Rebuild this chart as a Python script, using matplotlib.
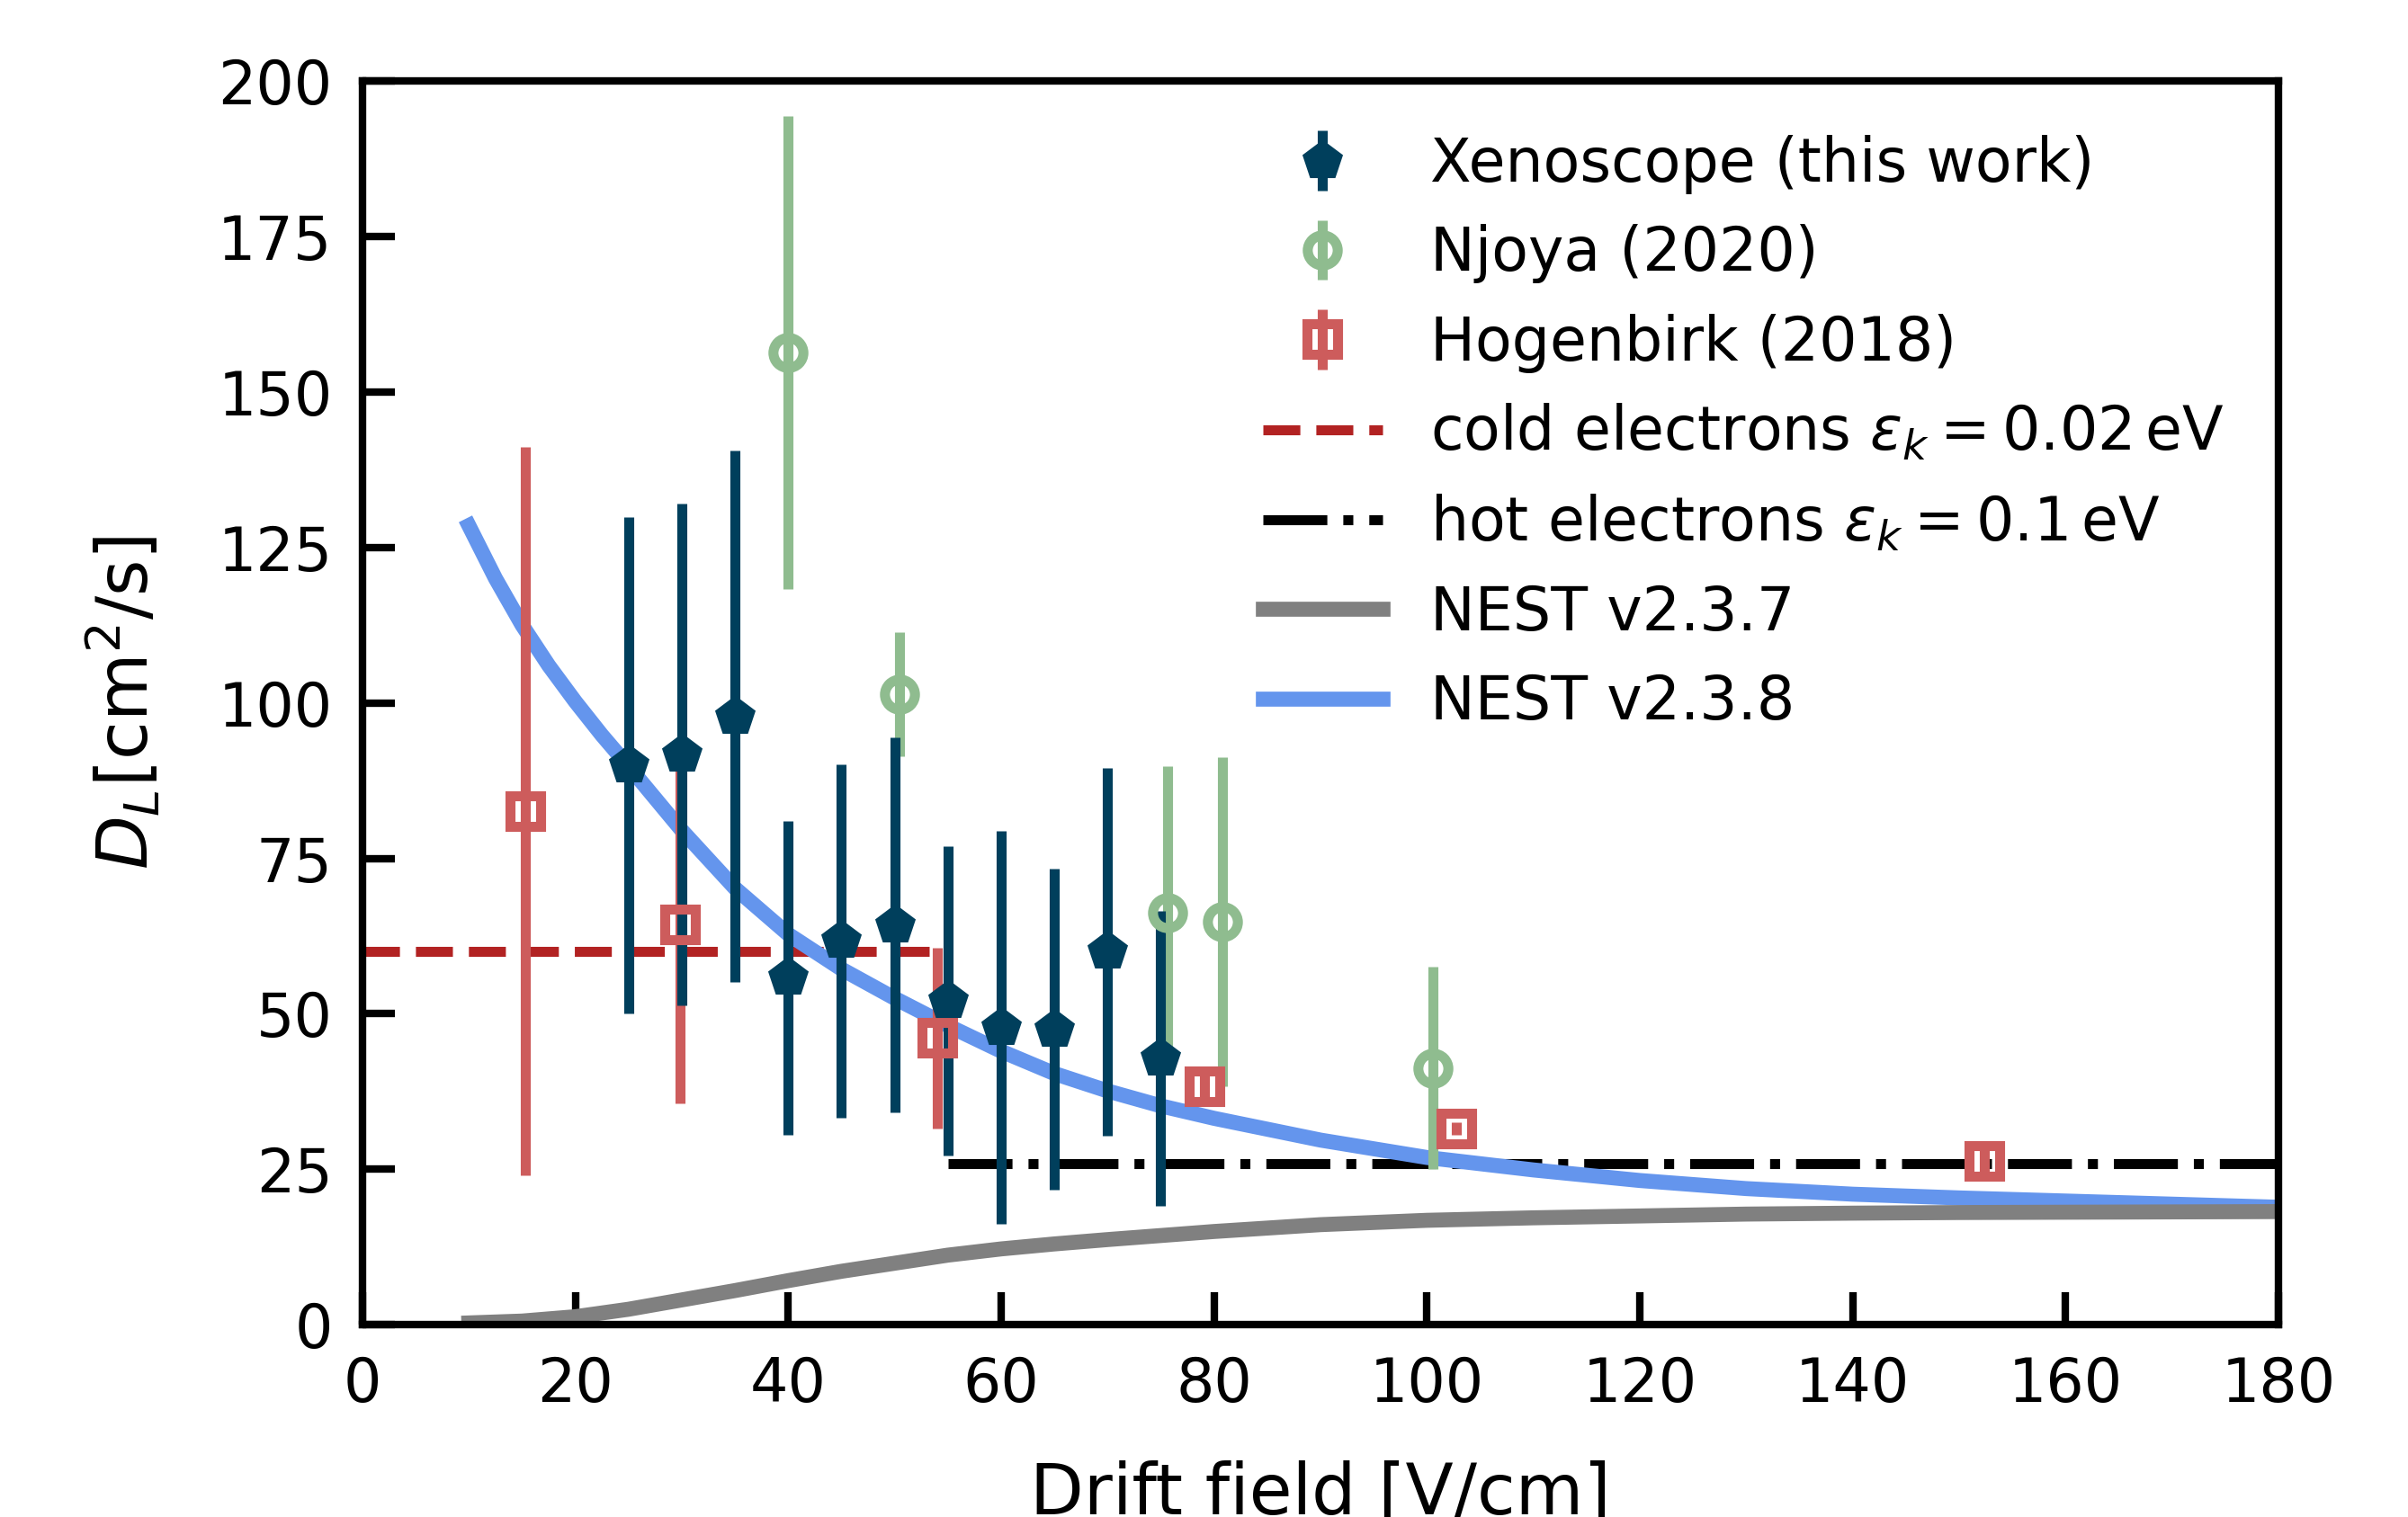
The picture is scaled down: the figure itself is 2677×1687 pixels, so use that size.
import numpy as np
import matplotlib
matplotlib.use('Agg')
import matplotlib.pyplot as plt

# Xenoscope (this work)
xeno_E = [25, 30, 35, 40, 45, 50, 55, 60, 65, 70, 75]
xeno_D = [89.9, 91.7, 97.8, 55.8, 61.7, 64.3, 52.1, 47.8, 47.5, 60.0, 42.8]
xeno_err = [39.9, 40.4, 42.7, 25.2, 28.4, 30.2, 24.9, 31.6, 25.8, 29.6, 23.7]

# Njoya (2020)
njoya_E = [40.0, 50.5, 75.6, 80.8, 100.6]
njoya_D = [156.3, 101.4, 66.3, 64.8, 41.3]
njoya_err = [38.0, 10.0, 23.5, 26.4, 16.3]

# Hogenbirk (2018)
hog_E = [15.3, 29.8, 54.0, 79.1, 102.8, 152.4]
hog_D = [82.6, 64.4, 46.1, 38.4, 31.6, 26.4]
hog_err = [58.5, 28.8, 14.5, 3.0, 1.0, 3.0]

# cold / hot electron estimates
cold_E = [0, 54]
cold_D = [60, 60]
hot_E = [55, 180]
hot_D = [25.9, 25.9]

# NEST curves
nest237_E = [10, 15, 20, 25, 30, 35, 40, 45, 50, 55, 60, 65, 70, 80, 90, 100,
             110, 120, 130, 140, 150, 160, 170, 180]
nest237_D = [0.3, 0.6, 1.3, 2.5, 4.0, 5.5, 7.1, 8.6, 9.9, 11.2, 12.2, 13.0, 13.7,
             15.0, 16.1, 16.8, 17.2, 17.5, 17.8, 17.95, 18.05, 18.1, 18.15, 18.2]
nest238_E = [10, 12.5, 15, 17.5, 20, 22.5, 25, 30, 35, 40, 45, 50, 55, 60, 65, 70,
             75, 80, 90, 100, 110, 120, 130, 140, 150, 160, 170, 180]
nest238_D = [128.5, 120.0, 112.5, 106.0, 100.2, 94.8, 89.8, 79.5, 70.2, 62.8,
             57.2, 52.5, 48.1, 44.0, 40.4, 37.6, 35.2, 33.2, 29.7, 26.9, 24.9,
             23.2, 21.9, 21.0, 20.4, 19.9, 19.4, 18.9]

fig = plt.figure(figsize=(2677/400, 1687/400), dpi=400)
ax = fig.add_axes([0.1505, 0.1267, 0.7957, 0.8200])

l_cold, = ax.plot(cold_E, cold_D, ls='--', color='firebrick', lw=2, zorder=1)
l_hot, = ax.plot(hot_E, hot_D, ls='-.', color='black', lw=2, zorder=1)
l_238, = ax.plot(nest238_E, nest238_D, color='cornflowerblue', lw=3, zorder=1.5)
l_237, = ax.plot(nest237_E, nest237_D, color='gray', lw=3, zorder=1.6)

e_hog = ax.errorbar(hog_E, hog_D, yerr=hog_err, fmt='s', color='indianred',
                    mfc='none', ms=6, mew=2, elinewidth=2, capsize=0, zorder=3)
e_njo = ax.errorbar(njoya_E, njoya_D, yerr=njoya_err, fmt='o', color='darkseagreen',
                    mfc='none', ms=6, mew=2, elinewidth=2, capsize=0, zorder=3)
e_xen = ax.errorbar(xeno_E, xeno_D, yerr=xeno_err, fmt='p', color='#003f5c',
                    ms=6, mew=2, elinewidth=2, capsize=0, zorder=3)

ax.set_xlim(0, 180)
ax.set_ylim(0, 200)
ax.set_xticks(np.arange(0, 181, 20))
ax.set_yticks(np.arange(0, 201, 25))
ax.tick_params(direction='in', length=6.5, width=1.5, labelsize=12, pad=6)
for s in ax.spines.values():
    s.set_linewidth(1.5)

ax.set_xlabel('Drift field [V/cm]', fontsize=14, labelpad=9)
ax.set_ylabel(r'$D_L [\mathrm{cm}^2/\mathrm{s}]$', fontsize=14, labelpad=11)

handles = [e_xen, e_njo, e_hog, l_cold, l_hot, l_237, l_238]
labels = ['Xenoscope (this work)', 'Njoya (2020)', 'Hogenbirk (2018)',
          r'cold electrons $\varepsilon_k = 0.02\,\mathrm{eV}$',
          r'hot electrons $\varepsilon_k = 0.1\,\mathrm{eV}$',
          'NEST v2.3.7', 'NEST v2.3.8']
ax.legend(handles, labels, loc='upper right', frameon=False, fontsize=12)

fig.savefig('out.png', dpi=400)
